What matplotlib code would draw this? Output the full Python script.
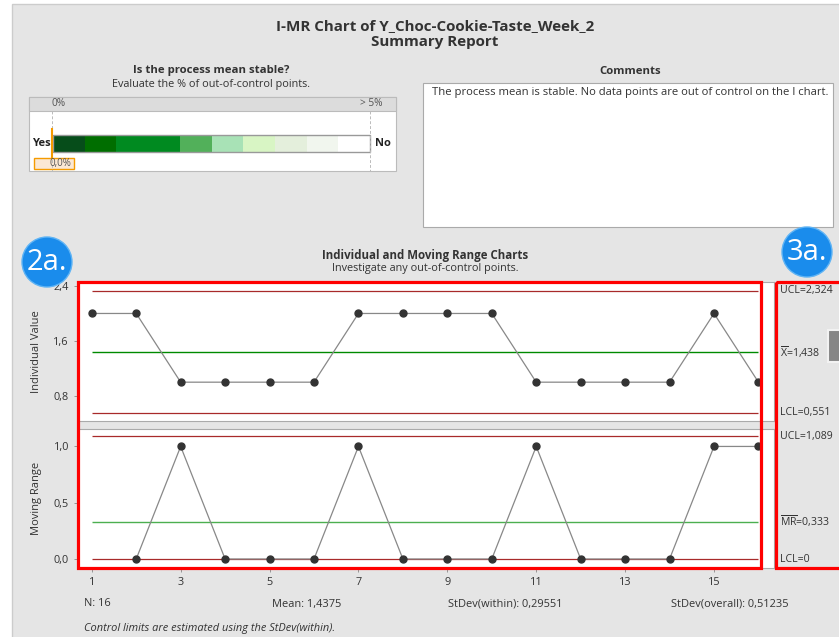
import matplotlib.pyplot as plt
import matplotlib.patches as mpatches
import numpy as np

plt.rcParams['font.family'] = ['Open Sans', 'DejaVu Sans']
plt.rcParams['mathtext.fontset'] = 'custom'
plt.rcParams['mathtext.rm'] = 'Open Sans'

W, H = 839, 637

# data
obs = np.arange(1, 17)
individual = [2, 2, 1, 1, 1, 1, 2, 2, 2, 2, 1, 1, 1, 1, 2, 1]
moving_range = [None, 0, 1, 0, 0, 0, 1, 0, 0, 0, 1, 0, 0, 0, 1, 1]
i_limits = {'UCL': 2.324, 'CL': 1.438, 'LCL': 0.551}
mr_limits = {'UCL': 1.089, 'CL': 0.333, 'LCL': 0.0}
i_ticks = [0.8, 1.6, 2.4]
i_ticklabels = ['0,8', '1,6', '2,4']
mr_ticks = [0.0, 0.5, 1.0]
mr_ticklabels = ['0,0', '0,5', '1,0']
x_ticks = [1, 3, 5, 7, 9, 11, 13, 15]
gauge_colors = ['#064d1a', '#006e00', '#008a20', '#008a20', '#52b05a',
                '#a8e2b6', '#d8f5c4', '#e4efdc', '#f1f6ee', '#ffffff']
stats = [('N: 16', 84), ('Mean: 1,4375', 272),
         ('StDev(within): 0,29551', 448), ('StDev(overall): 0,51235', 671)]

TXT = '#333333'


def rect(l, t, r, b):
    return [l / W, 1 - b / H, (r - l) / W, (b - t) / H]


fig = plt.figure(figsize=(W / 100, H / 100), dpi=100)
fig.patch.set_facecolor('white')

# background layer in pixel coords
bg = fig.add_axes([0, 0, 1, 1], zorder=0)
bg.set_xlim(0, W)
bg.set_ylim(H, 0)
bg.axis('off')
bg.add_patch(mpatches.Rectangle((12, 4), W, H, facecolor='#e5e5e5',
                                edgecolor='#cccccc', lw=1))

bg.text(435, 26, 'I-MR Chart of Y_Choc-Cookie-Taste_Week_2', ha='center',
        va='center', fontsize=10.9, fontweight='bold', color=TXT)
bg.text(435, 42, 'Summary Report', ha='center', va='center', fontsize=10.9,
        fontweight='bold', color=TXT)

# gauge panel
bg.text(211, 71, 'Is the process mean stable?', ha='center', va='center',
        fontsize=8.2, fontweight='bold', color=TXT)
bg.text(211, 85, 'Evaluate the % of out-of-control points.', ha='center',
        va='center', fontsize=7.8, color=TXT)
bg.add_patch(mpatches.Rectangle((29, 97), 367, 74, facecolor='white',
                                edgecolor='#bbbbbb', lw=0.8))
bg.add_patch(mpatches.Rectangle((29, 97), 367, 14, facecolor='#dcdcdc',
                                edgecolor='#bbbbbb', lw=0.8))
bg.text(52, 104, '0%', ha='left', va='center', fontsize=7.3, color='#555555')
bg.text(382, 104, '> 5%', ha='right', va='center', fontsize=7.3,
        color='#555555')
for gx in (52, 370):
    bg.plot([gx, gx], [111, 171], color='#bbbbbb', lw=0.7, ls=(0, (3, 2)))
seg_w = (370 - 53) / len(gauge_colors)
for k, c in enumerate(gauge_colors):
    bg.add_patch(mpatches.Rectangle((53 + k * seg_w, 135), seg_w, 17,
                                    facecolor=c, edgecolor='none'))
bg.add_patch(mpatches.Rectangle((53, 135), 317, 17, facecolor='none',
                                edgecolor='#999999', lw=1))
bg.text(51, 144, 'Yes', ha='right', va='center', fontsize=8,
        fontweight='bold', color='#222222')
bg.text(375, 144, 'No', ha='left', va='center', fontsize=8,
        fontweight='bold', color='#222222')
bg.plot([52, 52], [129, 158], color='#f59b00', lw=1.5)
bg.add_patch(mpatches.Rectangle((34, 158), 40, 11, facecolor='#fbe8d4',
                                edgecolor='#f59b00', lw=1))
bg.text(60, 163.5, '0,0%', ha='center', va='center', fontsize=7,
        color='#555555')

# comments panel
bg.text(630, 71, 'Comments', ha='center', va='center', fontsize=8.2,
        fontweight='bold', color=TXT)
bg.add_patch(mpatches.Rectangle((423, 83), 410, 144, facecolor='white',
                                edgecolor='#aaaaaa', lw=0.8))
bg.text(432, 92, 'The process mean is stable. No data points are out of '
        'control on the I chart.', ha='left', va='center', fontsize=8.1,
        color=TXT)

# chart titles
bg.text(425, 255, 'Individual and Moving Range Charts', ha='center',
        va='center', fontsize=8.3, fontweight='bold', color=TXT)
bg.text(425, 268, 'Investigate any out-of-control points.', ha='center',
        va='center', fontsize=7.8, color=TXT)

# bottom stats
for s, sx in stats:
    bg.text(sx, 604, s, ha='left', va='center', fontsize=7.9, color=TXT)
bg.text(84, 629, 'Control limits are estimated using the StDev(within).',
        ha='left', va='center', fontsize=7.9, style='italic', color=TXT)


def style_axes(ax):
    ax.set_facecolor('white')
    for sp in ax.spines.values():
        sp.set_color('#aaaaaa')
        sp.set_linewidth(0.8)
    ax.tick_params(axis='both', colors='#888888', labelcolor=TXT,
                   labelsize=7.8, length=3, width=0.6)


# I chart
ax1 = fig.add_axes(rect(78, 282, 774, 421), zorder=2)
style_axes(ax1)
ax1.hlines(i_limits['UCL'], 1, 16, color='#a82a2a', lw=0.9)
ax1.hlines(i_limits['LCL'], 1, 16, color='#a82a2a', lw=0.9)
ax1.hlines(i_limits['CL'], 1, 16, color='#008a00', lw=1)
ax1.plot(obs, individual, color='#888888', lw=0.9, marker='o', ms=5,
         mfc='#333333', mec='#333333', zorder=3, clip_on=False)
ax1.set_xlim(0.69, 16.35)
ax1.set_ylim(0.435, 2.458)
ax1.set_yticks(i_ticks)
ax1.set_yticklabels(i_ticklabels)
ax1.set_xticks([])
ax1.set_ylabel('Individual Value', fontsize=8, color=TXT, labelpad=8)

# MR chart
ax2 = fig.add_axes(rect(78, 429, 774, 568), zorder=2)
style_axes(ax2)
ax2.hlines(mr_limits['UCL'], 1, 16, color='#a82a2a', lw=0.9)
ax2.hlines(mr_limits['LCL'], 1, 16, color='#a82a2a', lw=0.9)
ax2.hlines(mr_limits['CL'], 1, 16, color='#4caf50', lw=1)
mr_x = [x for x, v in zip(obs, moving_range) if v is not None]
mr_y = [v for v in moving_range if v is not None]
ax2.plot(mr_x, mr_y, color='#888888', lw=0.9, marker='o', ms=5,
         mfc='#333333', mec='#333333', zorder=3, clip_on=False)
ax2.set_xlim(0.69, 16.35)
ax2.set_ylim(-0.08, 1.155)
ax2.set_yticks(mr_ticks)
ax2.set_yticklabels(mr_ticklabels)
ax2.set_xticks(x_ticks)
ax2.set_xticklabels([str(t) for t in x_ticks])
ax2.set_ylabel('Moving Range', fontsize=8, color=TXT, labelpad=8)

# foreground annotations
fg = fig.add_axes([0, 0, 1, 1], zorder=5)
fg.set_xlim(0, W)
fg.set_ylim(H, 0)
fg.axis('off')
fg.patch.set_alpha(0)

lab_kw = dict(ha='left', va='center', fontsize=7.6, color=TXT)
fg.text(780, 291, 'UCL=2,324', **lab_kw)
fg.text(780, 352, r'$\overline{\mathrm{X}}$=1,438', **lab_kw)
fg.text(780, 413, 'LCL=0,551', **lab_kw)
fg.text(780, 436, 'UCL=1,089', **lab_kw)
fg.text(780, 521, r'$\overline{\mathrm{MR}}$=0,333', **lab_kw)
fg.text(780, 559, 'LCL=0', **lab_kw)

fg.add_patch(mpatches.Rectangle((828, 330), 20, 32, facecolor='#868686',
                                edgecolor='#f2f2f2', lw=1.5))

fg.add_patch(mpatches.Rectangle((78, 282), 683, 286, facecolor='none',
                                edgecolor='#ff0000', lw=2.3))
fg.add_patch(mpatches.Rectangle((776, 282), 80, 286, facecolor='none',
                                edgecolor='#ff0000', lw=2.3))

for cx, cy, lab in [(47, 262, '2a.'), (807, 252, '3a.')]:
    fg.add_patch(mpatches.Circle((cx, cy), 25, facecolor='#1a8cec',
                                 edgecolor='#5fb4f5', lw=1))
    fg.text(cx, cy + 1, lab, ha='center', va='center', fontsize=21,
            color='white')

fig.savefig('out.png', dpi=100)
